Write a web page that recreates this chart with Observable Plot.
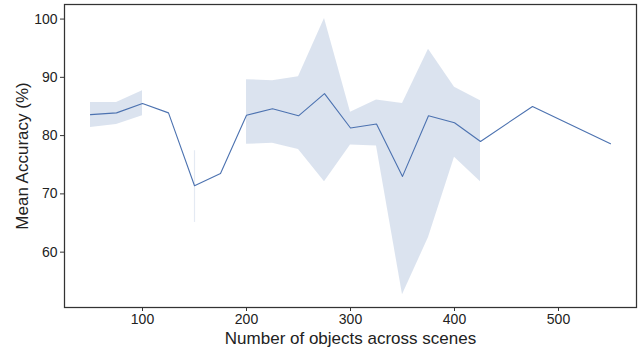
<!DOCTYPE html>
<html><head><meta charset="utf-8">
<script src="https://cdn.jsdelivr.net/npm/d3@7"></script>
<script src="https://cdn.jsdelivr.net/npm/@observablehq/plot@0.6"></script>
<style>body{margin:0;background:#fff;} #c{width:639px;height:347px;}</style>
</head><body><div id="c"></div>
<script>
const nObjects = [50,75,100,125,150,175,200,225,250,275,300,325,350,375,400,425,475,550];
const meanAcc  = [83.6,83.9,85.5,83.9,71.4,73.5,83.5,84.6,83.4,87.2,81.3,82.0,73.0,83.4,82.2,79.0,85.0,78.6];
const ciLow    = [81.4,81.9,83.4,null,65.1,null,78.5,78.7,77.6,72.1,78.4,78.2,52.7,62.5,76.3,72.1,null,null];
const ciHigh   = [85.7,85.7,87.7,null,77.4,null,89.6,89.4,90.1,100.1,84.0,86.1,85.5,94.8,88.3,86.0,null,null];
const xTicks = [100,200,300,400,500];
const yTicks = [60,70,80,90,100];
const xLabel = "Number of objects across scenes";
const yLabel = "Mean Accuracy (%)";

const data = nObjects.map((n,i)=>({n, m: meanAcc[i], lo: ciLow[i], hi: ciHigh[i]}));
const lone = data.filter((d,i)=> d.lo!=null && (i===0||data[i-1].lo==null) && (i===data.length-1||data[i+1].lo==null));

const chart = Plot.plot({
  width: 639, height: 347,
  marginLeft: 64, marginRight: 3, marginTop: 4, marginBottom: 40,
  style: {fontFamily: "'Liberation Sans', Arial, sans-serif", color: "#222", background: "#fff"},
  x: {domain: [25, 575]},
  y: {domain: [50.5, 102.5]},
  marks: [
    Plot.areaY(data, {x: "n", y1: "lo", y2: "hi", fill: "#4c72b0", fillOpacity: 0.2}),
    Plot.ruleX(lone, {x: "n", y1: "lo", y2: "hi", stroke: "#4c72b0", strokeOpacity: 0.15, strokeWidth: 1.2}),
    Plot.line(data, {x: "n", y: "m", stroke: "#4c72b0", strokeWidth: 1.1}),
    Plot.frame({stroke: "#333", strokeWidth: 1.25}),
    Plot.axisX(xTicks, {tickSize: 4, tickPadding: 3, fontSize: 14, label: null, stroke: "#333"}),
    Plot.axisY(yTicks, {tickSize: 4, tickPadding: 3, fontSize: 14, label: null, stroke: "#333"}),
    Plot.text([xLabel], {frameAnchor: "bottom", dy: 36, fontSize: 17, fill: "#222"}),
    Plot.text([yLabel], {frameAnchor: "left", textAnchor: "middle", dx: -42, rotate: -90, fontSize: 17, fill: "#222"})
  ]
});
document.getElementById("c").appendChild(chart);
</script></body></html>
